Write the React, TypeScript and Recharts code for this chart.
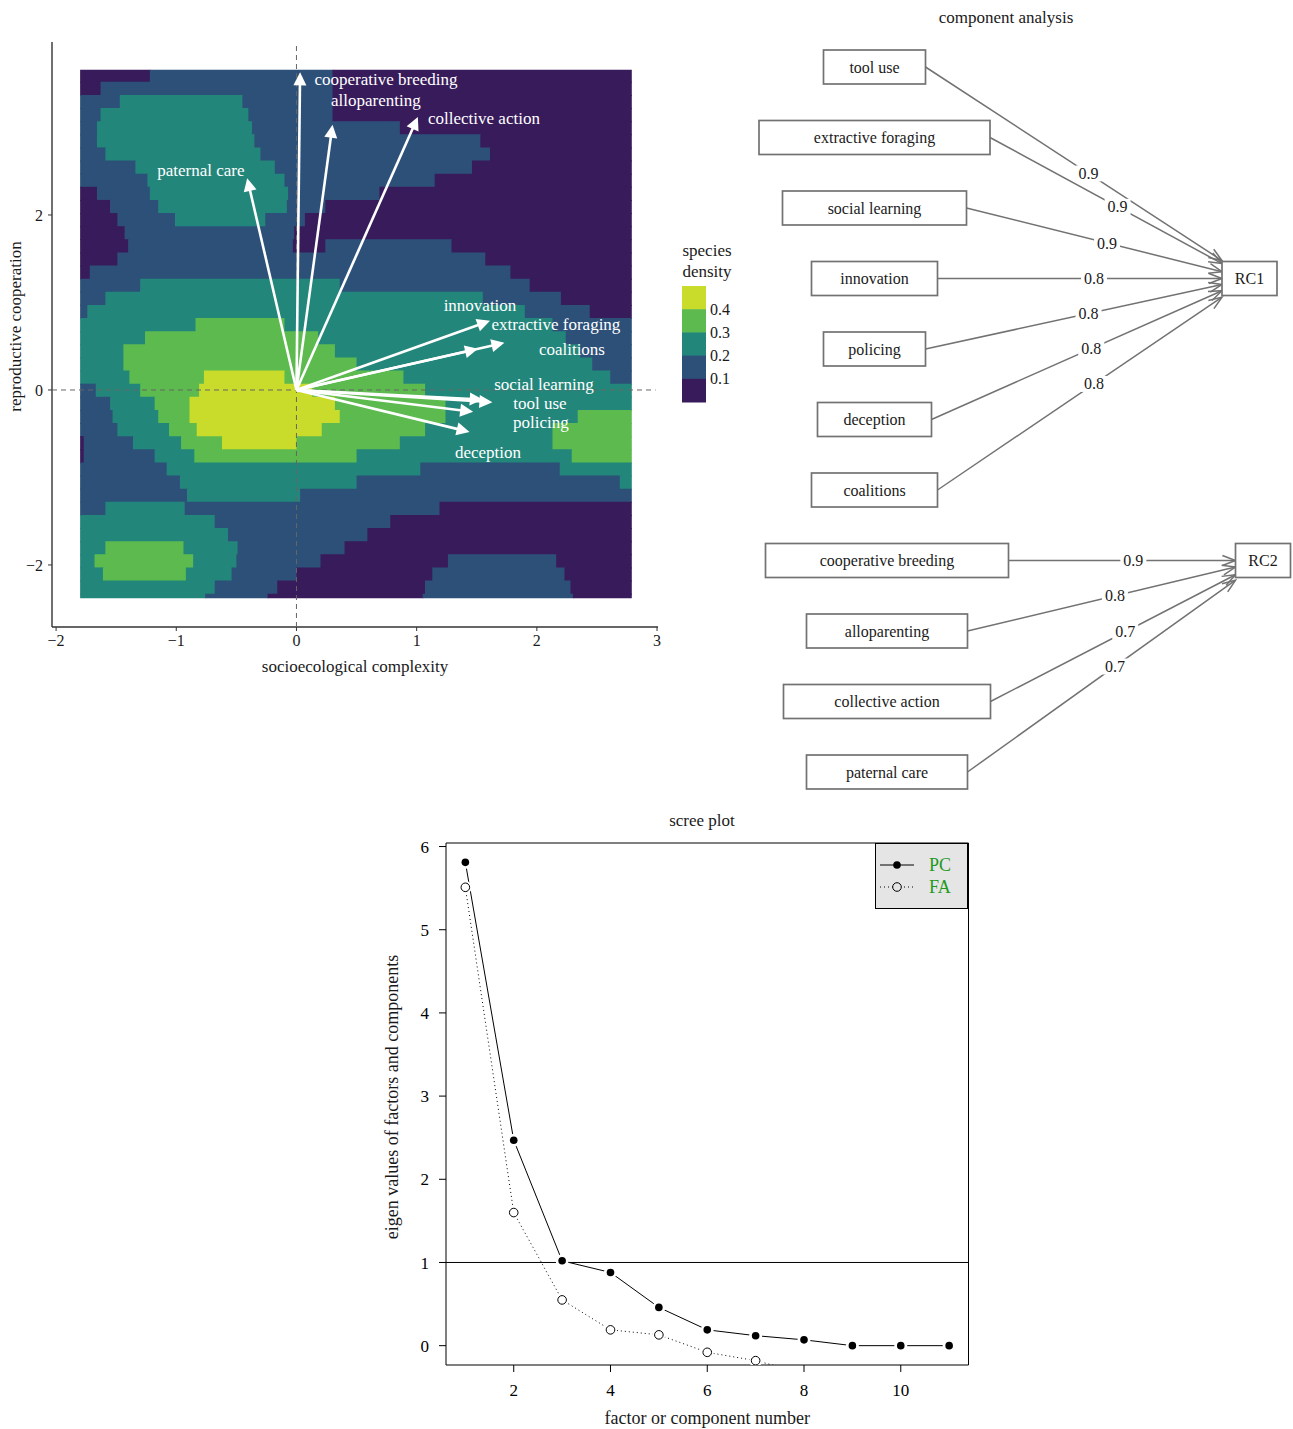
import React from 'react';
import {
  ScatterChart,
  Scatter,
  XAxis,
  YAxis,
  ReferenceArea,
  ReferenceLine,
  Legend,
  Label,
  LineChart,
  Line,
} from 'recharts';

const SERIF = '"Liberation Serif", "DejaVu Serif", "Times New Roman", serif';
const INK = '#1a1a1a';

/* ---------------- Panel A: species density + loadings ---------------- */
const densityColours = ['#381b5b', '#2d5079', '#23867b', '#5cba4f', '#c9dc2b'];
const densityBreakLabels = ['0.1', '0.2', '0.3', '0.4'];
const densityGridX = [-1.8, 2.79];
const densityGridY = [-2.38, 3.66];
const densityRowStep = 0.15;
// rows from top to bottom: [x where band starts, density level (0..4), ...]
const densityRows: number[][] = [
  [-1.8, 0, -1.22, 1, 0.30, 0],
  [-1.8, 0, -1.63, 1, 0.30, 0],
  [-1.8, 1, -1.47, 2, -0.45, 1, 0.30, 0],
  [-1.8, 1, -1.63, 2, -0.40, 1, 0.30, 0],
  [-1.8, 1, -1.66, 2, -0.37, 1, 0.86, 0],
  [-1.8, 1, -1.66, 2, -0.35, 1, 1.53, 0],
  [-1.8, 1, -1.59, 2, -0.30, 1, 1.61, 0],
  [-1.8, 1, -1.34, 2, -0.18, 1, 1.46, 0],
  [-1.8, 1, -1.24, 2, -0.10, 1, 1.15, 0],
  [-1.8, 0, -1.66, 1, -1.22, 2, -0.07, 1, 0.69, 0],
  [-1.8, 0, -1.55, 1, -1.15, 2, -0.08, 1, 0.24, 0],
  [-1.8, 0, -1.49, 1, -1.01, 2, -0.26, 1, 0.07, 0],
  [-1.8, 0, -1.43, 1, -0.02, 0],
  [-1.8, 0, -1.40, 1, -0.03, 0, 0.24, 1, 1.29, 0],
  [-1.8, 0, -1.49, 1, 1.57, 0],
  [-1.8, 0, -1.72, 1, 1.78, 0],
  [-1.8, 1, -1.30, 2, 0.36, 1, 1.94, 0],
  [-1.8, 1, -1.59, 2, 1.55, 1, 2.20, 0],
  [-1.8, 1, -1.74, 2, 1.90, 1, 2.44, 0],
  [-1.8, 2, -0.84, 3, -0.10, 2, 2.13, 1],
  [-1.8, 2, -1.26, 3, 0.18, 2, 2.24, 1],
  [-1.8, 2, -1.44, 3, 0.32, 2, 2.36, 1],
  [-1.8, 2, -1.44, 3, 0.50, 2, 2.46, 1],
  [-1.8, 2, -1.39, 3, -0.77, 4, -0.10, 3, 0.89, 2, 2.61, 1],
  [-1.8, 1, -1.67, 2, -1.30, 3, -0.81, 4, 0.13, 3, 1.07, 2],
  [-1.8, 1, -1.55, 2, -1.18, 3, -0.89, 4, 0.32, 3, 1.24, 2],
  [-1.8, 1, -1.53, 2, -1.15, 3, -0.89, 4, 0.36, 3, 1.24, 2, 2.34, 3],
  [-1.8, 1, -1.49, 2, -1.06, 3, -0.83, 4, 0.21, 3, 1.07, 2, 2.13, 3],
  [-1.8, 0, -1.77, 1, -1.36, 2, -0.96, 3, -0.62, 4, 0.00, 3, 0.86, 2, 2.13, 3],
  [-1.8, 0, -1.77, 1, -1.18, 2, -0.85, 3, 0.50, 2, 2.29, 3],
  [-1.8, 1, -1.08, 2, 1.03, 1, 2.19, 2],
  [-1.8, 1, -0.97, 2, 0.50, 1, 2.69, 2],
  [-1.8, 1, -0.91, 2, 0.03, 1],
  [-1.8, 1, -1.59, 2, -0.93, 1, 1.19, 0],
  [-1.8, 2, -0.68, 1, 0.78, 0],
  [-1.8, 2, -0.57, 1, 0.59, 0],
  [-1.8, 2, -1.59, 3, -0.94, 2, -0.49, 1, 0.40, 0],
  [-1.8, 2, -1.68, 3, -0.86, 2, -0.50, 1, 0.20, 0, 1.26, 1, 2.16, 0],
  [-1.8, 2, -1.61, 3, -0.92, 2, -0.54, 1, 0.00, 0, 1.13, 1, 2.23, 0],
  [-1.8, 2, -0.68, 1, -0.16, 0, 1.07, 1, 2.28, 0],
  [-1.8, 2, -0.76, 1, -0.24, 0, 1.05, 1, 2.30, 0],
];

const loadingNames = [
  'cooperative breeding', 'alloparenting', 'collective action', 'paternal care',
  'innovation', 'extractive foraging', 'coalitions',
  'social learning', 'tool use', 'policing', 'deception',
];
const loadingSocio = [0.03, 0.30, 1.01, -0.41, 1.61, 1.73, 1.51, 1.63, 1.55, 1.47, 1.44];
const loadingRepro = [3.63, 3.03, 3.12, 2.42, 0.79, 0.54, 0.47, -0.14, -0.11, -0.25, -0.48];
const loadingLabelSocio = [0.745, 0.661, 1.56, -0.795, 1.527, 2.159, 2.292, 2.059, 2.026, 2.034, 1.593];
const loadingLabelRepro = [3.554, 3.303, 3.097, 2.503, 0.971, 0.754, 0.457, 0.057, -0.149, -0.377, -0.709];

const biplotXTicks = [-2, -1, 0, 1, 2, 3];
const biplotYTicks = [-2, 0, 2];
const biplotXDomain = [-2.034, 3.008];
const biplotYDomain = [-2.709, 3.977];

/* ---------------- Panel B: component analysis ---------------- */
const indicatorNames = [
  'tool use', 'extractive foraging', 'social learning', 'innovation', 'policing', 'deception', 'coalitions',
  'cooperative breeding', 'alloparenting', 'collective action', 'paternal care',
];
const indicatorFactor = ['RC1', 'RC1', 'RC1', 'RC1', 'RC1', 'RC1', 'RC1', 'RC2', 'RC2', 'RC2', 'RC2'];
const indicatorLoading = [0.9, 0.9, 0.9, 0.8, 0.8, 0.8, 0.8, 0.9, 0.8, 0.7, 0.7];
const factorNames = ['RC1', 'RC2'];

/* ---------------- Panel C: scree plot ---------------- */
const factorNumber = [1, 2, 3, 4, 5, 6, 7, 8, 9, 10, 11];
const pcEigen = [5.81, 2.47, 1.02, 0.88, 0.46, 0.19, 0.12, 0.07, 0.0, 0.0, 0.0];
const faEigen = [5.51, 1.6, 0.55, 0.19, 0.13, -0.08, -0.18, -0.33, -0.41, -0.49, -0.56];
const screeSeries = ['PC', 'FA'];
const screeXTicks = [2, 4, 6, 8, 10];
const screeYTicks = [0, 1, 2, 3, 4, 5, 6];
const screeXDomain = [0.6, 11.4];
const screeYDomain = [-0.2325, 6.0425];

/* ---------------- helpers ---------------- */
const minusFmt = (v: number) => String(v).replace('-', '\u2212');
const noShape = () => <g />;

const axisTitle = (text: string, kind: 'x' | 'y', d: number, shift: number, size: number) => (props: any) => {
  const vb = props.viewBox || { x: 0, y: 0, width: 0, height: 0 };
  if (kind === 'x') {
    const x = vb.x + vb.width / 2 + shift;
    const y = vb.y + d;
    return (
      <text x={x} y={y} textAnchor="middle" dominantBaseline="central" fontSize={size} fontFamily={SERIF} fill={INK}>
        {text}
      </text>
    );
  }
  const x = vb.x + d;
  const y = vb.y + vb.height / 2 + shift;
  return (
    <text x={x} y={y} transform={`rotate(-90 ${x} ${y})`} textAnchor="middle" dominantBaseline="central" fontSize={size} fontFamily={SERIF} fill={INK}>
      {text}
    </text>
  );
};

function whiteArrow(props: any) {
  const pts = props.points || [];
  if (pts.length < 2) return <g />;
  const a = pts[0];
  const b = pts[pts.length - 1];
  const ang = Math.atan2(b.y - a.y, b.x - a.x);
  const c = Math.cos(ang);
  const s = Math.sin(ang);
  const L = 13;
  const H = 6.5;
  const bx = b.x - L * c;
  const by = b.y - L * s;
  return (
    <g>
      <line x1={a.x} y1={a.y} x2={bx + 2 * c} y2={by + 2 * s} stroke="#fff" strokeWidth={2.6} />
      <polygon points={`${b.x},${b.y} ${bx - H * s},${by + H * c} ${bx + H * s},${by - H * c}`} fill="#fff" />
    </g>
  );
}

const biplotLabel = (p: any) => (
  <text x={p.cx} y={p.cy} textAnchor="middle" dominantBaseline="central" fill="#fff" fontSize={17} fontFamily={SERIF}>
    {p.payload.name}
  </text>
);

function DensityLegend() {
  const cols = [...densityColours].reverse();
  const labs = [...densityBreakLabels].reverse();
  const top = 50;
  const h = 23.2;
  return (
    <svg width={73} height={175}>
      <text x={35} y={14} textAnchor="middle" dominantBaseline="central" fontSize={17} fontFamily={SERIF} fill={INK}>species</text>
      <text x={35} y={35} textAnchor="middle" dominantBaseline="central" fontSize={17} fontFamily={SERIF} fill={INK}>density</text>
      {cols.map((c, i) => (
        <rect key={c} x={10} y={top + i * h} width={24} height={h + 0.5} fill={c} />
      ))}
      {labs.map((l, i) => (
        <text key={l} x={38} y={top + (i + 1) * h} dominantBaseline="central" fontSize={16} fontFamily={SERIF} fill={INK}>
          {l}
        </text>
      ))}
    </svg>
  );
}

function DensityPanel() {
  const cells: { x1: number; x2: number; y1: number; y2: number; level: number }[] = [];
  densityRows.forEach((row, i) => {
    const y2 = densityGridY[1] - i * densityRowStep;
    const y1 = Math.max(densityGridY[0], y2 - densityRowStep);
    for (let k = 0; k < row.length; k += 2) {
      const x1 = row[k];
      const x2 = k + 2 < row.length ? row[k + 2] : densityGridX[1];
      cells.push({ x1, x2, y1, y2, level: row[k + 1] });
    }
  });
  const labels = loadingNames.map((name, i) => ({ x: loadingLabelSocio[i], y: loadingLabelRepro[i], name }));
  const tickStyle = { fontSize: 16, fill: INK, fontFamily: SERIF };
  return (
    <ScatterChart width={745} height={690} margin={{ top: 42, right: 87, bottom: 33, left: 22 }}>
      <XAxis
        type="number"
        dataKey="x"
        domain={biplotXDomain}
        ticks={biplotXTicks}
        interval={0}
        allowDataOverflow
        height={30}
        tickFormatter={minusFmt}
        axisLine={{ stroke: '#333', strokeWidth: 1.4 }}
        tickLine={{ stroke: '#333' }}
        tickSize={4}
        tickMargin={4}
        tick={tickStyle}
      >
        <Label content={axisTitle('socioecological complexity', 'x', 39, 0, 17)} />
      </XAxis>
      <YAxis
        type="number"
        dataKey="y"
        domain={biplotYDomain}
        ticks={biplotYTicks}
        interval={0}
        allowDataOverflow
        width={30}
        tickFormatter={minusFmt}
        axisLine={{ stroke: '#333', strokeWidth: 1.4 }}
        tickLine={{ stroke: '#333' }}
        tickSize={4}
        tickMargin={5}
        tick={tickStyle}
      >
        <Label content={axisTitle('reproductive cooperation', 'y', -7, -8, 17)} />
      </YAxis>
      {cells.map((c, i) => (
        <ReferenceArea
          key={`cell-${i}`}
          x1={c.x1}
          x2={c.x2 + (c.x2 < densityGridX[1] ? 0.006 : 0)}
          y1={c.y1}
          y2={c.y2 + (c.y2 < densityGridY[1] ? 0.012 : 0)}
          fill={densityColours[c.level]}
          fillOpacity={1}
          stroke="none"
          ifOverflow="visible"
        />
      ))}
      <Scatter
        data={[{ x: 0, y: biplotYDomain[0] }, { x: 0, y: biplotYDomain[1] }]}
        line={{ stroke: '#666', strokeWidth: 1, strokeDasharray: '5 4' }}
        shape={noShape}
        isAnimationActive={false}
      />
      <Scatter
        data={[{ x: biplotXDomain[0], y: 0 }, { x: biplotXDomain[1] - 0.02, y: 0 }]}
        line={{ stroke: '#666', strokeWidth: 1, strokeDasharray: '5 4' }}
        shape={noShape}
        isAnimationActive={false}
      />
      {loadingNames.map((n, i) => (
        <Scatter
          key={`arrow-${n}`}
          data={[{ x: 0, y: 0 }, { x: loadingSocio[i], y: loadingRepro[i] }]}
          line={whiteArrow}
          shape={noShape}
          isAnimationActive={false}
        />
      ))}
      <Scatter data={labels} shape={biplotLabel} isAnimationActive={false} />
      <Legend
        layout="vertical"
        align="center"
        verticalAlign="middle"
        content={() => <DensityLegend />}
        wrapperStyle={{ position: 'absolute', left: 672, top: 236, width: 73, height: 175 }}
      />
    </ScatterChart>
  );
}

/* ---------------- Panel B ---------------- */
const DIAG_W = 543;
const DIAG_H = 800;
const ROW_PX = 70.5;
const FIRST_ROW_PX = 67;
const diagYDomain = [-FIRST_ROW_PX / ROW_PX, (DIAG_H - FIRST_ROW_PX) / ROW_PX];
const indicatorColumnX = [124.5, 137];
const factorColumnX = [499.5, 513];
const factorRow = [3, 7];
const BOX_H = 34;
const FACTOR_BOX_W = 55;
const boxWidth = (s: string) => Math.round(11.7 * s.length + 8.6);
const BOX_STROKE = '#727272';

const boxShape = (p: any) => {
  const w = p.payload.w;
  return (
    <g>
      <rect x={p.cx - w / 2} y={p.cy - BOX_H / 2} width={w} height={BOX_H} fill="#fff" stroke={BOX_STROKE} strokeWidth={1.7} />
      <text x={p.cx} y={p.cy} textAnchor="middle" dominantBaseline="central" fontSize={16} fontFamily={SERIF} fill={INK}>
        {p.payload.name}
      </text>
    </g>
  );
};

function edgeArrow(props: any) {
  const pts = props.points || [];
  if (pts.length < 2) return <g />;
  const a = pts[0];
  const b = pts[pts.length - 1];
  const ang = Math.atan2(b.y - a.y, b.x - a.x);
  const L = 14;
  const sp = 0.36;
  const p1x = b.x - L * Math.cos(ang - sp);
  const p1y = b.y - L * Math.sin(ang - sp);
  const p2x = b.x - L * Math.cos(ang + sp);
  const p2y = b.y - L * Math.sin(ang + sp);
  return (
    <g>
      <line x1={a.x} y1={a.y} x2={b.x} y2={b.y} stroke={BOX_STROKE} strokeWidth={1.5} />
      <path d={`M${p1x},${p1y} L${b.x},${b.y} L${p2x},${p2y}`} fill="none" stroke={BOX_STROKE} strokeWidth={1.5} />
    </g>
  );
}

const edgeLabelShape = (p: any) => (
  <g>
    <rect x={p.cx - 13} y={p.cy - 8} width={26} height={16} fill="#fff" />
    <text x={p.cx} y={p.cy} textAnchor="middle" dominantBaseline="central" fontSize={16} fontFamily={SERIF} fill={INK}>
      {p.payload.name}
    </text>
  </g>
);

function PathDiagram() {
  const nodes: any[] = [];
  const edges: any[] = [];
  const edgeLabels: any[] = [];
  indicatorNames.forEach((name, i) => {
    const f = factorNames.indexOf(indicatorFactor[i]);
    const w = boxWidth(name);
    const cx = indicatorColumnX[f];
    nodes.push({ x: cx, y: i, name, w });
    const xs = cx + w / 2;
    const ys = i;
    const xc = factorColumnX[f];
    const yc = factorRow[f];
    const xe = xc - FACTOR_BOX_W / 2;
    const t = (xe - xs) / (xc - xs);
    const ye = ys + t * (yc - ys);
    edges.push([{ x: xs, y: ys }, { x: xe, y: ye }]);
    edgeLabels.push({ x: xs + 0.55 * (xe - xs), y: ys + 0.55 * (ye - ys), name: indicatorLoading[i].toFixed(1) });
  });
  factorNames.forEach((name, f) => {
    nodes.push({ x: factorColumnX[f], y: factorRow[f], name, w: FACTOR_BOX_W });
  });
  return (
    <ScatterChart width={DIAG_W} height={DIAG_H} margin={{ top: 0, right: 0, bottom: 0, left: 0 }}>
      <XAxis type="number" dataKey="x" domain={[0, DIAG_W]} hide allowDataOverflow />
      <YAxis type="number" dataKey="y" domain={diagYDomain} reversed hide allowDataOverflow />
      {edges.map((e, i) => (
        <Scatter key={`edge-${i}`} data={e} line={edgeArrow} shape={noShape} isAnimationActive={false} />
      ))}
      <Scatter data={edgeLabels} shape={edgeLabelShape} isAnimationActive={false} />
      <Scatter data={nodes} shape={boxShape} isAnimationActive={false} />
    </ScatterChart>
  );
}

/* ---------------- Panel C ---------------- */
const pcDot = (p: any) => {
  if (p.cx == null || p.cy == null || p.value == null) return <g key={`pc-${p.index}`} />;
  return (
    <g key={`pc-${p.index}`}>
      <circle cx={p.cx} cy={p.cy} r={6.5} fill="#fff" />
      <circle cx={p.cx} cy={p.cy} r={3.8} fill="#000" />
    </g>
  );
};
const faDot = (p: any) => {
  if (p.cx == null || p.cy == null || p.value == null) return <g key={`fa-${p.index}`} />;
  return (
    <g key={`fa-${p.index}`}>
      <circle cx={p.cx} cy={p.cy} r={6.5} fill="#fff" />
      <circle cx={p.cx} cy={p.cy} r={4.3} fill="#fff" stroke="#000" strokeWidth={1} />
    </g>
  );
};

function ScreeLegend() {
  return (
    <div style={{ width: 93, height: 66, background: '#e5e5e5', border: '1px solid #000', boxSizing: 'border-box' }}>
      <svg width={91} height={64}>
        {screeSeries.map((n: string, i: number) => {
          const y = 21 + i * 22;
          const dotted = i === 1;
          return (
            <g key={n}>
              <line x1={4} x2={38} y1={y} y2={y} stroke="#000" strokeWidth={1} strokeDasharray={dotted ? '1 3' : undefined} />
              {dotted ? (
                <circle cx={21} cy={y} r={4.3} fill="#e5e5e5" stroke="#000" />
              ) : (
                <circle cx={21} cy={y} r={3.8} fill="#000" />
              )}
              <text x={53} y={y} dominantBaseline="central" fontSize={18} fontFamily={SERIF} fill="#1f9a1f">
                {n}
              </text>
            </g>
          );
        })}
      </svg>
    </div>
  );
}

function ScreePlot() {
  const data = factorNumber.map((n, i) => ({ n, pc: pcEigen[i], fa: faEigen[i] }));
  const tickStyle = { fontSize: 17, fill: '#000', fontFamily: SERIF };
  return (
    <LineChart width={640} height={629} data={data} margin={{ top: 43, right: 31.5, bottom: 24, left: 46 }}>
      <XAxis
        type="number"
        dataKey="n"
        domain={screeXDomain}
        ticks={screeXTicks}
        interval={0}
        allowDataOverflow
        axisLine={false}
        tickLine={{ stroke: '#000' }}
        tickSize={7}
        tickMargin={12}
        height={40}
        tick={tickStyle}
      >
        <Label content={axisTitle('factor or component number', 'x', 53, 0, 18)} />
      </XAxis>
      <YAxis
        type="number"
        domain={screeYDomain}
        ticks={screeYTicks}
        interval={0}
        allowDataOverflow
        axisLine={false}
        tickLine={{ stroke: '#000' }}
        tickSize={7}
        tickMargin={10}
        width={40}
        tick={tickStyle}
      >
        <Label content={axisTitle('eigen values of factors and components', 'y', -14, -7, 18)} />
      </YAxis>
      <ReferenceArea
        x1={screeXDomain[0]}
        x2={screeXDomain[1]}
        y1={screeYDomain[0]}
        y2={screeYDomain[1]}
        fill="none"
        fillOpacity={0}
        stroke="#000"
        strokeWidth={1}
        ifOverflow="visible"
      />
      <Line name={screeSeries[0]} dataKey="pc" stroke="#000" strokeWidth={1} dot={pcDot} activeDot={false} isAnimationActive={false} />
      <Line name={screeSeries[1]} dataKey="fa" stroke="#000" strokeWidth={1} strokeDasharray="1 3" dot={faDot} activeDot={false} isAnimationActive={false} />
      <ReferenceLine y={1} stroke="#000" strokeWidth={1} />
      <Legend
        layout="vertical"
        align="center"
        verticalAlign="middle"
        content={() => <ScreeLegend />}
        wrapperStyle={{ position: 'absolute', left: 515, top: 43, width: 93, height: 66 }}
      />
    </LineChart>
  );
}

export default function App() {
  return (
    <div style={{ position: 'absolute', left: 0, top: 0, width: 1293, height: 1429, background: '#fff', fontFamily: SERIF }}>
      <div style={{ position: 'absolute', left: 0, top: 0 }}>
        <DensityPanel />
      </div>
      <div style={{ position: 'absolute', left: 906, top: 7, width: 200, textAlign: 'center', fontSize: 17, lineHeight: '22px', color: INK }}>
        component analysis
      </div>
      <div style={{ position: 'absolute', left: 750, top: 0 }}>
        <PathDiagram />
      </div>
      <div style={{ position: 'absolute', left: 360, top: 800 }}>
        <ScreePlot />
      </div>
      <div style={{ position: 'absolute', left: 602, top: 810, width: 200, textAlign: 'center', fontSize: 17, lineHeight: '22px', color: INK }}>
        scree plot
      </div>
    </div>
  );
}
